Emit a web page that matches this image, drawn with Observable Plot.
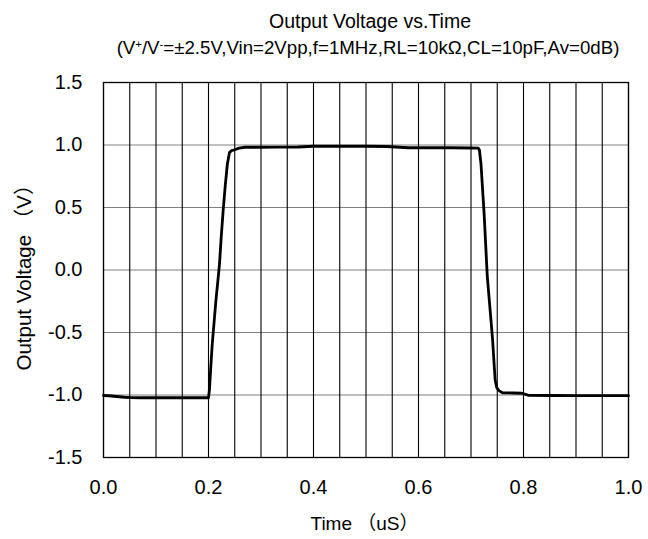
<!DOCTYPE html>
<html>
<head>
<meta charset="utf-8">
<script src="https://cdn.jsdelivr.net/npm/d3@7"></script>
<script src="https://cdn.jsdelivr.net/npm/@observablehq/plot@0.6"></script>
<style>
  html, body { margin: 0; padding: 0; background: #fff; }
  #wrap { width: 648px; height: 539px; position: relative; font-family: "Liberation Sans", Arial, "Noto Sans CJK SC", sans-serif; color: #000; }
  #head { position: relative; width: 648px; height: 60px; }
  .t { position: absolute; white-space: nowrap; line-height: 20px; transform: translateX(-50%); }
  .t sup { font-size: 0.6em; line-height: 0; vertical-align: 0.5em; }
</style>
</head>
<body>
<div id="wrap">
  <div id="head">
    <div class="t" id="title" style="left:370px; top:11px; font-size:19.5px;"></div>
    <div class="t" id="subtitle" style="left:368px; top:38px; font-size:18.7px;"></div>
  </div>
  <div id="chart"></div>
</div>
<script>
const titleText = "Output Voltage vs.Time";
const subtitleHTML = "(V<sup>+</sup>/V<sup>-</sup>=±2.5V,Vin=2Vpp,f=1MHz,RL=10kΩ,CL=10pF,Av=0dB)";
const xLabel = "Time （uS）";
const yLabel = "Output Voltage （V）";

const xTicks = [0, 0.2, 0.4, 0.6, 0.8, 1.0];
const xTickLabels = ["0.0", "0.2", "0.4", "0.6", "0.8", "1.0"];
const xGrid = [0,0.05,0.1,0.15,0.2,0.25,0.3,0.35,0.4,0.45,0.5,0.55,0.6,0.65,0.7,0.75,0.8,0.85,0.9,0.95,1.0];
const yTicks = [-1.5, -1.0, -0.5, 0.0, 0.5, 1.0, 1.5];
const yTickLabels = ["-1.5", "-1.0", "-0.5", "0.0", "0.5", "1.0", "1.5"];

// time (uS)
const time = [
  0.000, 0.010, 0.020, 0.030, 0.040, 0.050, 0.070, 0.100, 0.130, 0.160, 0.190, 0.200,
  0.202, 0.204, 0.207, 0.210, 0.214, 0.218, 0.221, 0.224, 0.228, 0.232, 0.236, 0.240, 0.244,
  0.250, 0.258, 0.270, 0.300, 0.330, 0.370, 0.400, 0.450, 0.500, 0.540, 0.580, 0.620, 0.660, 0.700, 0.714,
  0.716, 0.719, 0.722, 0.725, 0.728, 0.731, 0.735, 0.738, 0.741, 0.744, 0.746, 0.749, 0.753,
  0.760, 0.780, 0.797, 0.810, 0.850, 0.900, 0.950, 1.000
];
// output voltage (V)
const volts = [
  -1.004, -1.006, -1.010, -1.014, -1.018, -1.020, -1.022, -1.022, -1.022, -1.022, -1.022, -1.022,
  -0.95, -0.80, -0.60, -0.45, -0.25, -0.08, 0.05, 0.25, 0.48, 0.68, 0.85, 0.94, 0.955,
  0.962, 0.975, 0.982, 0.982, 0.983, 0.984, 0.990, 0.990, 0.990, 0.988, 0.978, 0.978, 0.978, 0.976, 0.975,
  0.96, 0.85, 0.65, 0.45, 0.20, -0.05, -0.25, -0.40, -0.55, -0.75, -0.88, -0.94, -0.965,
  -0.982, -0.984, -0.986, -1.003, -1.004, -1.005, -1.005, -1.005
];

const data = time.map((t, i) => ({t, v: volts[i]}));

document.getElementById("title").textContent = titleText;
document.getElementById("subtitle").innerHTML = subtitleHTML;

const FONT = "Liberation Sans, Arial, Noto Sans CJK SC, sans-serif";

const chart = Plot.plot({
  width: 648,
  height: 479,
  marginTop: 22,
  marginBottom: 82,
  marginLeft: 103,
  marginRight: 20,
  style: {fontFamily: FONT, fontSize: "20px", color: "#000", background: "#fff"},
  x: {domain: [0, 1]},
  y: {domain: [-1.5, 1.5]},
  marks: [
    Plot.gridY(yTicks, {stroke: "#808080", strokeOpacity: 1, strokeWidth: 1}),
    Plot.gridX(xGrid, {stroke: "#000", strokeOpacity: 1, strokeWidth: 1.1}),
    Plot.axisX(xTicks, {tickSize: 0, tickPadding: 22, fontSize: 20, label: null,
      tickFormat: d => xTickLabels[xTicks.indexOf(d)]}),
    Plot.axisY(yTicks, {tickSize: 0, tickPadding: 21, fontSize: 20, label: null,
      tickFormat: d => yTickLabels[yTicks.indexOf(d)]}),
    Plot.frame({stroke: "#000", strokeWidth: 1.3}),
    Plot.line(data, {x: "t", y: "v", stroke: "#000", strokeWidth: 2.8, strokeLinejoin: "round"}),
    Plot.text([xLabel], {frameAnchor: "bottom", text: d => d, fontSize: 19, textAnchor: "middle", lineAnchor: "middle", dy: 66, dx: -1.5}),
    Plot.text([yLabel], {frameAnchor: "left", text: d => d, fontSize: 20.5, textAnchor: "middle", lineAnchor: "middle", rotate: -90, dx: -79, dy: 2.5})
  ]
});
document.getElementById("chart").appendChild(chart);
</script>
</body>
</html>
